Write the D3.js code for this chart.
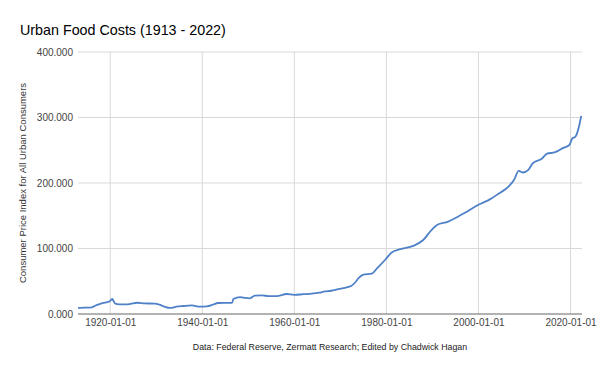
<!DOCTYPE html>
<html>
<head>
<meta charset="utf-8">
<script src="https://cdn.jsdelivr.net/npm/d3@7"></script>
<style>
  body { margin: 0; background: #fff; }
  text { font-family: "Liberation Sans", Arial, sans-serif; }
</style>
</head>
<body>
<div id="chart"></div>
<script>
// data (food CPI, urban consumers)
var dates = ["1913-01-01","1914-06-01","1916-01-01","1917-01-01","1918-01-01","1919-03-01","1919-12-01",
  "1920-06-01","1920-09-01","1921-02-01","1922-01-01","1923-06-01","1924-06-01","1925-11-01","1927-06-01",
  "1929-09-01","1930-09-01","1931-09-01","1933-01-01","1934-06-01","1935-11-01","1937-10-01","1939-07-01",
  "1941-01-01","1942-06-01","1943-06-01","1946-03-01","1946-07-01","1946-10-01","1948-04-01","1949-06-01",
  "1950-05-01","1951-06-01","1953-01-01","1954-06-01","1956-03-01","1958-05-01","1960-01-01","1962-01-01",
  "1963-10-01","1965-06-01","1966-09-01","1968-01-01","1969-08-01","1971-01-01","1972-06-01","1973-04-01",
  "1974-01-01","1975-01-01","1976-11-01","1978-01-01","1979-10-01","1981-03-01","1983-01-01","1985-11-01",
  "1988-01-01","1989-11-01","1991-01-01","1993-06-01","1994-08-01","1997-03-01","2000-01-01","2002-08-01",
  "2004-05-01","2006-08-01","2007-10-01","2008-10-01","2009-09-01","2010-11-01","2011-11-01","2013-10-01",
  "2014-11-01","2016-09-01","2018-06-01","2019-10-01","2020-05-01","2021-02-01","2021-10-01","2022-05-01"];
var values = [9.2,9.6,10.2,13.5,16.0,17.7,19.5,
  22.9,20.5,15.7,14.8,14.7,15.5,17.2,16.3,
  15.7,14.2,11.5,9.2,11.2,12.2,13.2,11.2,
  11.7,14.5,16.8,17.0,17.3,22.9,25.9,24.5,
  24.0,27.9,28.3,27.4,27.4,30.5,29.2,30.2,
  31.0,32.5,34.5,35.5,38.1,40.0,43.0,48.5,
  55.0,60.0,61.5,70.0,82.8,94.0,99.0,104.0,
  113.0,128.6,136.0,141.0,145.0,155.0,166.7,175.4,
  183.5,194.7,205.0,218.6,216.0,220.0,230.4,237.0,
  244.5,247.0,253.7,258.0,267.4,271.0,283.7,302.5];
var yTicks = [0, 100, 200, 300, 400];
var xTicks = ["1920-01-01","1940-01-01","1960-01-01","1980-01-01","2000-01-01","2020-01-01"];

var titleText = "Urban Food Costs (1913 - 2022)";
var yTitle = "Consumer Price Index for All Urban Consumers";
var footer = "Data: Federal Reserve, Zermatt Research; Edited by Chadwick Hagan";

var w = 600, h = 371;
var margin = {top: 52, right: 18, bottom: 57, left: 78};

var parse = d3.timeParse("%Y-%m-%d");
var fmt = d3.timeFormat("%Y-%m-%d");
var data = dates.map(function (d, i) { return {date: parse(d), value: values[i]}; });

var svg = d3.select("#chart").append("svg")
  .attr("width", w)
  .attr("height", h);

var x = d3.scaleTime()
  .domain([parse("1913-01-01"), parse("2022-07-01")])
  .range([margin.left, w - margin.right]);
var y = d3.scaleLinear()
  .domain([0, 400])
  .range([h - margin.bottom, margin.top]);

// gridlines
svg.append("g").attr("class", "ygrid")
  .selectAll("line").data(yTicks.slice(1)).enter().append("line")
  .attr("x1", margin.left).attr("x2", w - margin.right)
  .attr("y1", function (d) { return y(d); }).attr("y2", function (d) { return y(d); })
  .attr("stroke", "#d9d9d9").attr("stroke-width", 1);

svg.append("g").attr("class", "xgrid")
  .selectAll("line").data(xTicks).enter().append("line")
  .attr("x1", function (d) { return x(parse(d)); }).attr("x2", function (d) { return x(parse(d)); })
  .attr("y1", y(400)).attr("y2", y(0))
  .attr("stroke", "#d9d9d9").attr("stroke-width", 1);

// y axis labels
var yAxis = d3.axisLeft(y).tickValues(yTicks).tickSize(0).tickPadding(5)
  .tickFormat(d3.format(".3f"));
var gy = svg.append("g").attr("transform", "translate(" + margin.left + ",0)").call(yAxis);
gy.select(".domain").remove();
gy.selectAll("text").attr("fill", "#444").attr("font-size", "10px")
  .attr("font-family", "Liberation Sans, Arial, sans-serif");

// x axis
var xAxis = d3.axisBottom(x).tickValues(xTicks.map(parse)).tickSize(0).tickPadding(5)
  .tickFormat(fmt);
var gx = svg.append("g").attr("transform", "translate(0," + y(0) + ")").call(xAxis);
gx.select(".domain").attr("stroke", "#666").attr("d", "M" + margin.left + ",0H" + (w - margin.right));
gx.selectAll("text").attr("fill", "#444").attr("font-size", "10px")
  .attr("font-family", "Liberation Sans, Arial, sans-serif");

// the line
var line = d3.line()
  .x(function (d) { return x(d.date); })
  .y(function (d) { return y(d.value); })
  .curve(d3.curveMonotoneX);

svg.append("path").datum(data)
  .attr("fill", "none")
  .attr("stroke", "#4f81c9")
  .attr("stroke-width", 1.8)
  .attr("stroke-linejoin", "round")
  .attr("d", line);

// texts
svg.append("text")
  .attr("x", 20).attr("y", 35)
  .attr("font-size", "14.3px").attr("fill", "#000")
  .text(titleText);

svg.append("text")
  .attr("transform", "translate(26," + ((y(0) + y(400)) / 2) + ") rotate(-90)")
  .attr("text-anchor", "middle")
  .attr("font-size", "9.5px").attr("fill", "#333")
  .text(yTitle);

svg.append("text")
  .attr("x", (margin.left + w - margin.right) / 2).attr("y", 350)
  .attr("text-anchor", "middle")
  .attr("font-size", "8.8px").attr("fill", "#222")
  .text(footer);
</script>
</body>
</html>
